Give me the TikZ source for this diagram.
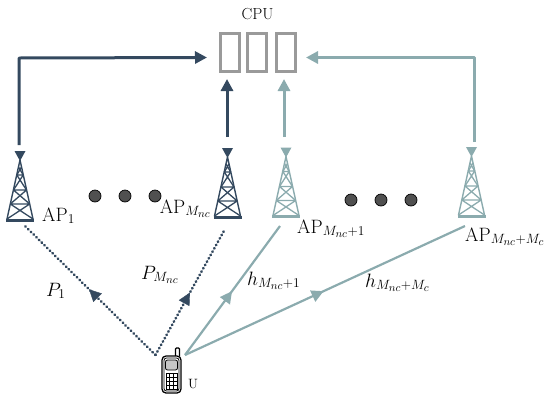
\documentclass[tikz,border=0pt]{standalone}
\usetikzlibrary{arrows.meta,decorations.markings}
\definecolor{darkb}{HTML}{34495F}
\definecolor{lightb}{HTML}{8BABAE}
\definecolor{boxg}{HTML}{9A9A9A}
\definecolor{dotg}{HTML}{505050}
\tikzset{
  cpubox/.style={draw=boxg,line width=3pt,fill=white},
  link/.style={line width=3pt,line join=round,-{Triangle[length=12pt,width=12pt]}},
  midtip/.style={postaction={decorate},decoration={markings,mark=at position #1 with {\arrow{Triangle[length=12pt,width=12pt]}}}},
  dotlink/.style={draw=darkb,line width=2.7pt,line cap=round,dash pattern=on 0.5pt off 3.3pt},
  sollink/.style={draw=lightb,line width=2.2pt},
  ell/.style={circle,draw=black,fill=dotg,line width=0.7pt,minimum size=12pt,inner sep=0pt},
  lab/.style={anchor=base west,inner sep=0pt,font=\fontsize{17.28}{20}\selectfont,scale=1.12,transform shape},
  tower/.pic={
    \fill (-5.5,-69) -- (5.5,-69) -- (0,-59) -- cycle;
    \draw[line width=1.4pt,line join=round] (-13,-1) -- (0,-60) -- (13,-1);
    \draw[line width=1.3pt]
      (-3.2,-45) -- (3.2,-45) (-6.5,-30) -- (6.5,-30) (-9.7,-16) -- (9.7,-16)
      (-1.5,-53) -- (3.2,-45) (1.5,-53) -- (-3.2,-45)
      (-3.2,-45) -- (6.5,-30) (3.2,-45) -- (-6.5,-30)
      (-6.5,-30) -- (9.7,-16) (6.5,-30) -- (-9.7,-16)
      (-9.7,-16) -- (13,-1) (9.7,-16) -- (-13,-1);
    \draw[line width=3pt] (-14,0) -- (14,0);
  }
}
\begin{document}
\begin{tikzpicture}[x=1pt,y=-1pt]
\useasboundingbox (0,0) rectangle (550,400);
% CPU
\node[cpubox,minimum width=19pt,minimum height=38pt,inner sep=0pt] (c1) at (229.5,52) {};
\node[cpubox,minimum width=19pt,minimum height=38pt,inner sep=0pt] (c2) at (257,52) {};
\node[cpubox,minimum width=19pt,minimum height=38pt,inner sep=0pt] (c3) at (285.5,52) {};
\node[inner sep=0pt,font=\fontsize{16}{18}\selectfont] (cpu) at (257.5,14.5) {CPU};
% towers
\pic[darkb,fill=darkb,draw=darkb] at (20,220) {tower};
\pic[darkb,fill=darkb,draw=darkb] at (227.5,217) {tower};
\pic[lightb,fill=lightb,draw=lightb] at (286,216.5) {tower};
\pic[lightb,fill=lightb,draw=lightb] at (471.5,216) {tower};
% named ends
\coordinate (t1) at (19,145);
\coordinate (k1) at (19,58);
\coordinate (e1) at (207,57.5);
\coordinate (t2) at (227,137);
\coordinate (e2) at (227,79);
\coordinate (t3) at (284,137);
\coordinate (e3) at (284,79);
\coordinate (t4) at (474,142);
\coordinate (k4) at (474,57.5);
\coordinate (e4) at (306,57.5);
\coordinate (b1) at (24,225);
\coordinate (b2) at (225,229);
\coordinate (b3) at (280,226);
\coordinate (b4) at (465,226);
\coordinate (u1) at (155.5,355);
\coordinate (u2) at (185,355);
% backhaul
\draw[link,darkb] (t1) -- (k1) -- (e1);
\draw[link,darkb] (t2) -- (e2);
\draw[link,lightb] (t3) -- (e3);
\draw[link,lightb] (t4) -- (k4) -- (e4);
% access links
\path[dotlink] (u1) -- (b1);
\path[dotlink] (u1) -- (b2);
\path[midtip=0.505,darkb] (u1) -- (b1);
\path[midtip=0.495,darkb] (u1) -- (b2);
\draw[sollink,midtip=0.495,lightb] (u2) -- (b3);
\draw[sollink,midtip=0.495,lightb] (u2) -- (b4);
% ellipses
\foreach \n/\x/\y in {a/95/196,b/125/196,c/155/196,d/351/200,e/381/200,f/411/200}
  \node[ell] (el\n) at (\x,\y) {};
% labels
\node[lab] (l1) at (42,221) {AP$_1$};
\node[lab,anchor=base east] (l2) at (211,213) {AP$_{M_{nc}}$};
\node[lab] (l3) at (297,233) {AP$_{M_{nc}+1}$};
\node[lab] (l4) at (465,241) {AP$_{M_{nc}+M_c}$};
\node[lab] (p1) at (46,296) {$P_1$};
\node[lab] (p2) at (141,279) {$P_{M_{nc}}$};
\node[lab] (h1) at (247,285) {$h_{M_{nc}+1}$};
\node[lab] (h2) at (365,287) {$h_{M_{nc}+M_c}$};
\node[anchor=base west,inner sep=0pt,font=\fontsize{13.5}{15}\selectfont] (u) at (188,388) {U};
% phone
\draw[line width=1.1pt,fill=white,rounded corners=1pt] (175.5,356) -- (175.5,348) -- (179.5,348) -- (179.5,356);
\draw[line width=1.3pt,fill=white,rounded corners=4pt] (162,356) rectangle (181,393);
\draw[line width=0.8pt,rounded corners=2.5pt] (164,358) rectangle (179,391);
\draw[line width=0.8pt,fill=gray!45,rounded corners=2pt] (165.5,360) rectangle (177.5,370);
\foreach \i in {0,1,2,3}{\foreach \j in {0,1,2}{
  \draw[line width=0.8pt,fill=white] (166+\j*3.7,373+\i*4) rectangle ++(3.7,4);
}}
\end{tikzpicture}
\end{document}
